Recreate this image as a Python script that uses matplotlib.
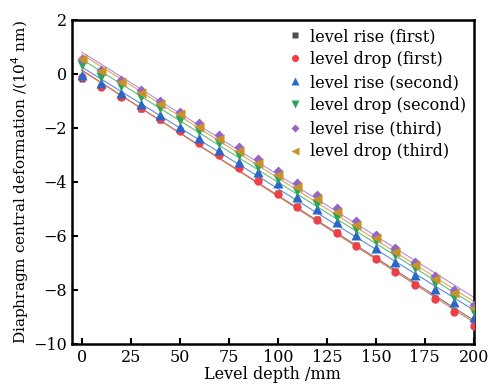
import numpy as np
import matplotlib.pyplot as plt

depth = np.arange(0, 201, 10)
rise1 = [-0.2, -0.45, -0.85, -1.3, -1.7, -2.07, -2.52, -2.98, -3.45, -3.93, -4.4,
         -4.88, -5.36, -5.85, -6.33, -6.8, -7.28, -7.78, -8.28, -8.77, -9.28]
drop1 = [-0.1, -0.5, -0.85, -1.27, -1.68, -2.1, -2.55, -3.0, -3.5, -3.97, -4.45,
         -4.93, -5.4, -5.9, -6.38, -6.85, -7.33, -7.83, -8.33, -8.82, -9.33]
rise2 = [-0.05, -0.35, -0.72, -1.12, -1.52, -1.95, -2.38, -2.82, -3.28, -3.65, -4.05,
         -4.55, -5.0, -5.5, -5.98, -6.45, -6.95, -7.45, -7.95, -8.45, -9.0]
drop2 = [0.33, -0.1, -0.45, -0.85, -1.25, -1.7, -2.1, -2.55, -3.0, -3.45, -3.9,
         -4.35, -4.8, -5.3, -5.75, -6.2, -6.7, -7.2, -7.75, -8.25, -8.8]
rise3 = [0.55, 0.15, -0.22, -0.6, -1.0, -1.4, -1.8, -2.25, -2.7, -3.15, -3.6,
         -4.05, -4.5, -4.98, -5.45, -5.95, -6.45, -6.95, -7.48, -8.0, -8.55]
drop3 = [0.55, 0.1, -0.3, -0.7, -1.1, -1.5, -1.95, -2.4, -2.85, -3.3, -3.75,
         -4.2, -4.65, -5.12, -5.6, -6.08, -6.58, -7.08, -7.6, -8.12, -8.68]

labels = ['level rise (first)', 'level drop (first)', 'level rise (second)',
          'level drop (second)', 'level rise (third)', 'level drop (third)']
series = [rise1, drop1, rise2, drop2, rise3, drop3]
colors = ['#4d4d4d', '#ee4048', '#2a66c8', '#2ba35e', '#9466c4', '#c8922a']
line_colors = ['#7a7a7a', '#f07050', '#5a8ce0', '#5cc07a', '#b08ee0', '#e0a850']
markers = ['s', 'o', '^', 'v', 'D', '<']
sizes = [5, 6, 6.5, 6.5, 5, 6.5]

plt.rcParams['font.family'] = 'DejaVu Serif'
fig = plt.figure(figsize=(4.9, 3.9), dpi=100)
ax = fig.add_axes([0.147, 0.118, 0.82, 0.831])

for y, c, lc, m, s, lab in zip(series, colors, line_colors, markers, sizes, labels):
    k, b = np.polyfit(depth, y, 1)
    xx = np.array([depth[0], depth[-1]])
    ax.plot(xx, k * xx + b, color=lc, lw=0.8, zorder=2)
    ax.plot(depth, y, ls='none', marker=m, color=c, ms=s, mec='none', label=lab, zorder=3)

ax.set_xlim(-5, 200)
ax.set_ylim(-10, 2)
ax.set_xticks(np.arange(0, 201, 25))
ax.set_yticks(np.arange(-10, 3, 2))
ax.tick_params(direction='in', length=4, width=1.5, labelsize=11.5, top=False, right=False)
for sp in ax.spines.values():
    sp.set_linewidth(1.8)
ax.set_xlabel('Level depth /mm', fontsize=11.5, labelpad=0)
ax.set_ylabel(r'Diaphragm central deformation /(10$^4$ nm)', fontsize=11, labelpad=2)
ax.legend(loc='upper right', frameon=False, fontsize=11.5, handlelength=0.8,
          handletextpad=0.5, labelspacing=0.38, borderaxespad=0.1, markerscale=0.85)

fig.savefig('out.png', dpi=100)
